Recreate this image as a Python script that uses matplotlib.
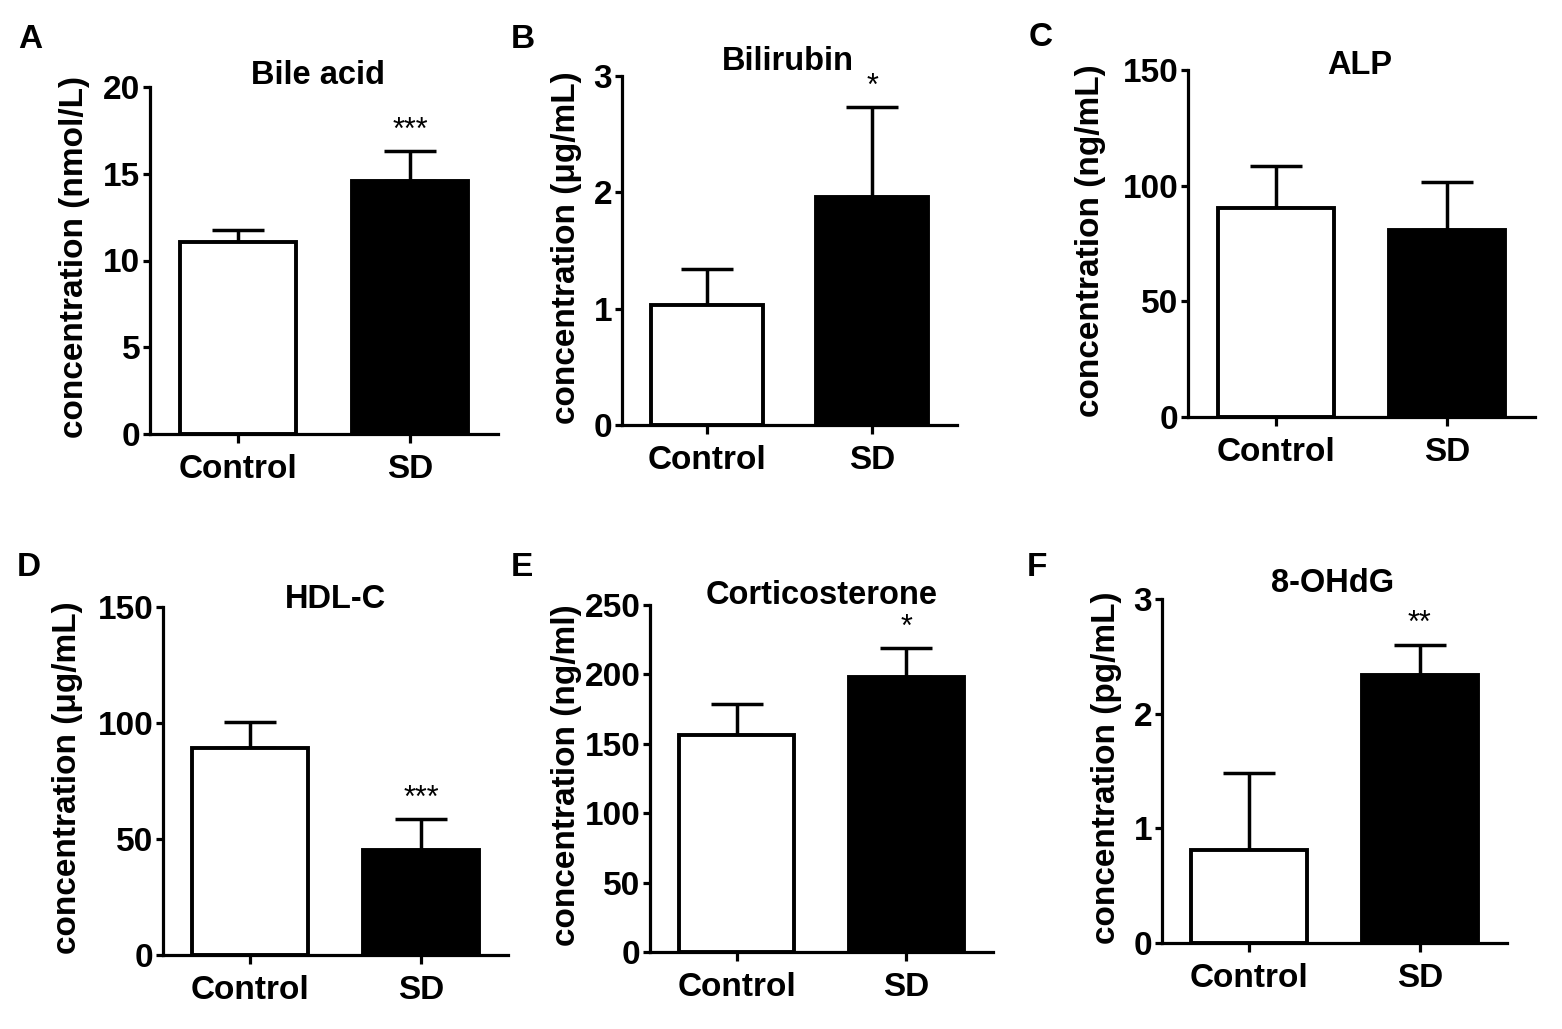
import matplotlib
matplotlib.use("Agg")
import matplotlib.pyplot as plt

plt.rcParams['font.family'] = ['Liberation Sans', 'DejaVu Sans']
plt.rcParams['font.weight'] = 'bold'

# ---- data ----
letters = ['A', 'B', 'C', 'D', 'E', 'F']
titles = ['Bile acid', 'Bilirubin', 'ALP', 'HDL-C', 'Corticosterone', '8-OHdG']
ylabels = ['concentration (nmol/L)', 'concentration (\u03bcg/mL)', 'concentration (ng/mL)',
           'concentration (\u03bcg/mL)', 'concentration (ng/ml)', 'concentration (pg/mL)']
groups = ['Control', 'SD']
control_mean = [11.05, 1.03, 90.4, 89.3, 156, 0.81]
control_err = [0.7, 0.31, 18.2, 11.2, 23, 0.67]
sd_mean = [14.6, 1.96, 80.8, 45.3, 198, 2.34]
sd_err = [1.7, 0.77, 20.8, 13.3, 21, 0.26]
ymax = [20, 3, 150, 150, 250, 3]
ystep = [5, 1, 50, 50, 50, 1]
stars = ['***', '*', '', '***', '*', '**']

# ---- layout in figure pixels ----
W, H = 1562, 1029
# left, right, top, bottom of each axes
boxes = [(150, 498, 87, 434), (622, 957, 76, 425), (1188, 1535, 70, 417),
         (163, 508, 607, 955), (650, 993, 605, 952), (1162, 1507, 599, 943)]
title_xy = [(318, 76), (788, 61), (1360, 66), (335, 599), (822, 596), (1333, 583)]
ylabel_x = [75, 567, 1091, 68, 566, 1107]
letter_xy = [(30, 39), (523, 39), (1041, 37), (29, 568), (522, 567), (1037, 567)]

fig = plt.figure(figsize=(W / 100, H / 100), dpi=100)

for i in range(6):
    l, r, t, b = boxes[i]
    ax = fig.add_axes([l / W, 1 - b / H, (r - l) / W, (b - t) / H])
    means = [control_mean[i], sd_mean[i]]
    errs = [control_err[i], sd_err[i]]
    ax.errorbar([0, 1], means, yerr=[[0, 0], errs], fmt='none', ecolor='black',
                elinewidth=2.5, capsize=19, capthick=2.5, zorder=1)
    ax.bar([0, 1], means, width=0.675, color=['white', 'black'], edgecolor='black',
           linewidth=2.8, zorder=2)
    ax.set_xlim(-0.51, 1.51)
    ax.set_ylim(0, ymax[i])
    ax.set_yticks([k * ystep[i] for k in range(int(ymax[i] / ystep[i]) + 1)])
    ax.set_xticks([0, 1])
    ax.set_xticklabels(groups, fontsize=24, fontweight='bold')
    for lab in ax.get_yticklabels():
        lab.set_fontsize(24)
        lab.set_fontweight('bold')
    for side in ['top', 'right']:
        ax.spines[side].set_visible(False)
    for side in ['left', 'bottom']:
        ax.spines[side].set_linewidth(2.3)
    ax.spines['left'].set_zorder(3)
    ax.tick_params(axis='y', direction='out', length=5, width=2.3, pad=2)
    ax.tick_params(axis='x', direction='out', length=6.5, width=2.3, pad=8)
    ax.patch.set_alpha(0)

    if stars[i]:
        ax.annotate(stars[i], (1, sd_mean[i] + sd_err[i]), xytext=(0, 4),
                    textcoords='offset points', ha='center', va='bottom',
                    fontsize=22, fontweight='normal')

    tx, ty = title_xy[i]
    fig.text(tx / W, 1 - ty / H, titles[i], ha='center', va='center',
             fontsize=23.5, fontweight='bold')
    fig.text(ylabel_x[i] / W, 1 - ((t + b) / 2 - 3) / H, ylabels[i], rotation=90,
             ha='center', va='center', fontsize=24, fontweight='bold')
    lx, ly = letter_xy[i]
    fig.text(lx / W, 1 - ly / H, letters[i], ha='center', va='center',
             fontsize=24, fontweight='bold')

fig.savefig('out.png', dpi=100, facecolor='white')
